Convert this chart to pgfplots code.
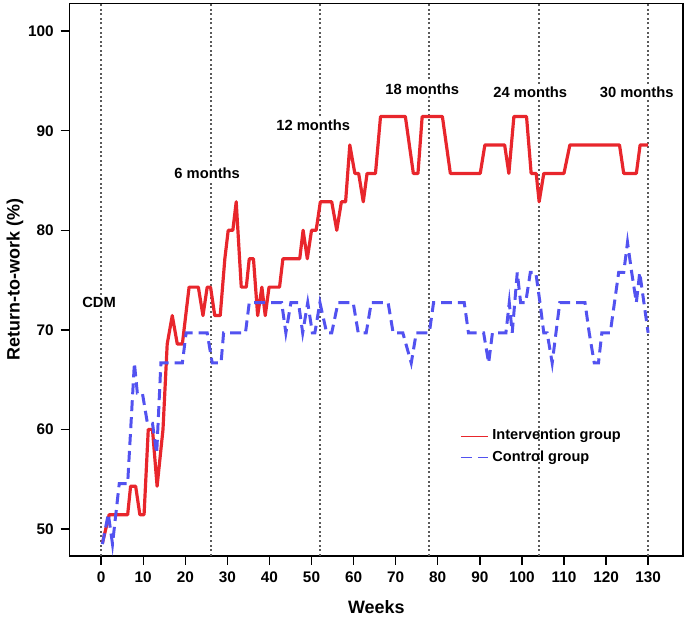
\documentclass[border=0pt]{standalone}
\usepackage{fontspec}
\setmainfont{Liberation Sans}
\usepackage{pgfplots}
\pgfplotsset{compat=1.18}

\definecolor{intred}{RGB}{232,38,44}
\definecolor{ctrlblue}{RGB}{82,82,240}
\definecolor{refgray}{RGB}{90,90,90}

\begin{document}
\begin{tikzpicture}
\begin{axis}[
  scale only axis,
  width=308pt, height=277.4pt,
  xmin=-7.5, xmax=138.3,
  ymin=47.3, ymax=102.8,
  xtick={0,10,...,130},
  ytick={50,60,...,100},
  tick align=outside,
  major tick length=4.5pt,
  tick style={black, line width=0.7pt},
  xtick pos=bottom, ytick pos=left,
  axis line style={line width=0.75pt},
  /pgf/number format/assume math mode=true,
  tick label style={font=\fontsize{7.7}{9}\selectfont\bfseries},
  xlabel={Weeks}, ylabel={Return-to-work (\%)},
  label style={font=\fontsize{9}{11}\selectfont\bfseries},
  xlabel style={at={(rel axis cs:0.5,-0.093)}, anchor=center},
  ylabel style={at={(rel axis cs:-0.089,0.5)}, anchor=center},
  clip=false,
  legend style={draw=none, fill=none, at={(rel axis cs:0.636,0.197)}, anchor=west,
    font=\fontsize{7.3}{9}\selectfont\bfseries, inner sep=0pt},
  legend cell align=left,
  legend image code/.code={\draw[#1, line width=0.7pt] (0pt,0pt) -- (13.5pt,0pt);},
]
% reference lines at 0, 6, 12, 18, 24, 30 months
\pgfplotsinvokeforeach{0,26,52,78,104,130}{
  \draw[refgray, line width=1pt, dash pattern=on 1pt off 1.3pt] (axis cs:#1,47.3) -- (axis cs:#1,102.8);
}
\path (rel axis cs:-0.1088,-0.108) rectangle (rel axis cs:1.0032,1.006);

\addplot[intred, line width=1.6pt, line join=round] coordinates {
(0.3,48.57) (1.9,51.43) (6.3,51.43) (7,54.29) (8.2,54.29) (9.2,51.43) (10.2,51.43)
(11.2,60.00) (12.2,60.00) (13.3,54.29) (14.7,60.00) (15.7,68.57) (16.9,71.43)
(18.1,68.57) (19.3,68.57) (20.9,74.29) (23.1,74.29) (24.2,71.43) (25.2,74.29)
(26,74.29) (27,71.43) (28.3,71.43) (29.4,77.14) (30.2,80.00) (31.3,80.00)
(32.1,82.86) (33.3,74.29) (34.5,74.29) (35.2,77.14) (36.2,77.14) (37.2,71.43)
(38.2,74.29) (39,71.43) (39.9,74.29) (42.4,74.29) (43.2,77.14) (47.2,77.14)
(48,80.00) (49,77.14) (50,80.00) (51.1,80.00) (52.1,82.86) (54.8,82.86)
(56,80.00) (57.1,82.86) (58.1,82.86) (59.1,88.57) (60.3,85.71) (61.2,85.71)
(62.3,82.86) (63.2,85.71) (65.2,85.71) (66.4,91.43) (72.3,91.43) (74.2,85.71)
(75.3,85.71) (76.3,91.43) (81.1,91.43) (83,85.71) (90.1,85.71) (91.2,88.57)
(95.9,88.57) (96.9,85.71) (98.1,91.43) (101.1,91.43) (102.2,85.71) (103.4,85.71)
(104.1,82.86) (105.2,85.71) (110,85.71) (111.4,88.57) (123.2,88.57) (124.2,85.71)
(127.2,85.71) (128.1,88.57) (130,88.57)
};
\addlegendentry{Intervention group}

\addplot[ctrlblue, line width=1.5pt, dash pattern=on 5.5pt off 3pt] coordinates {
(0.3,48.48) (1.7,51.52) (2.7,48.48) (4.3,54.55) (6.3,54.55) (7.9,66.67)
(8.6,63.64) (9.8,63.64) (11,60.61) (12.2,60.61) (13.2,57.58) (14.2,66.67)
(19.3,66.67) (20.2,69.70) (25.2,69.70) (26.4,66.67) (28.5,66.67) (29.1,69.70)
(34.3,69.70) (35.2,72.73) (42.9,72.73) (43.9,69.70) (45.1,72.73) (46.9,72.73)
(47.9,69.70) (49.1,72.73) (50.2,69.70) (50.8,69.70) (52,72.73) (53.6,69.70)
(54.8,69.70) (56.3,72.73) (59.9,72.73) (61.1,69.70) (63,69.70) (64.2,72.73)
(68.2,72.73) (69.4,69.70) (71.7,69.70) (73.7,66.67) (74.9,69.70) (78,69.70)
(79,72.73) (86.3,72.73) (87.3,69.70) (90.9,69.70) (92.1,66.67) (93,69.70)
(96.2,69.70) (97,72.73) (97.7,69.70) (98.9,75.76) (99.7,72.73) (100.9,72.73)
(102,75.76) (103.3,75.76) (104.3,72.73) (105.2,69.70) (106,69.70) (107.2,66.67)
(109,72.73) (115,72.73) (116,69.70) (117.2,66.67) (118.2,66.67) (119,69.70)
(121,69.70) (123,75.76) (124.2,75.76) (125.1,78.79) (126.1,75.76) (127.2,72.73)
(128,75.76) (130,69.70)
};
\addlegendentry{Control group}

\begin{scope}[every node/.style={fill=white, inner sep=1pt, font=\fontsize{7.4}{9}\selectfont\bfseries}]
\node at (axis cs:-0.5,72.8) {CDM};
\node at (axis cs:25.2,85.7) {6 months};
\node at (axis cs:50.4,90.6) {12 months};
\node at (axis cs:76.3,94.2) {18 months};
\node at (axis cs:102,93.9) {24 months};
\node at (axis cs:127.3,93.9) {30 months};
\end{scope}
\end{axis}
\end{tikzpicture}
\end{document}
